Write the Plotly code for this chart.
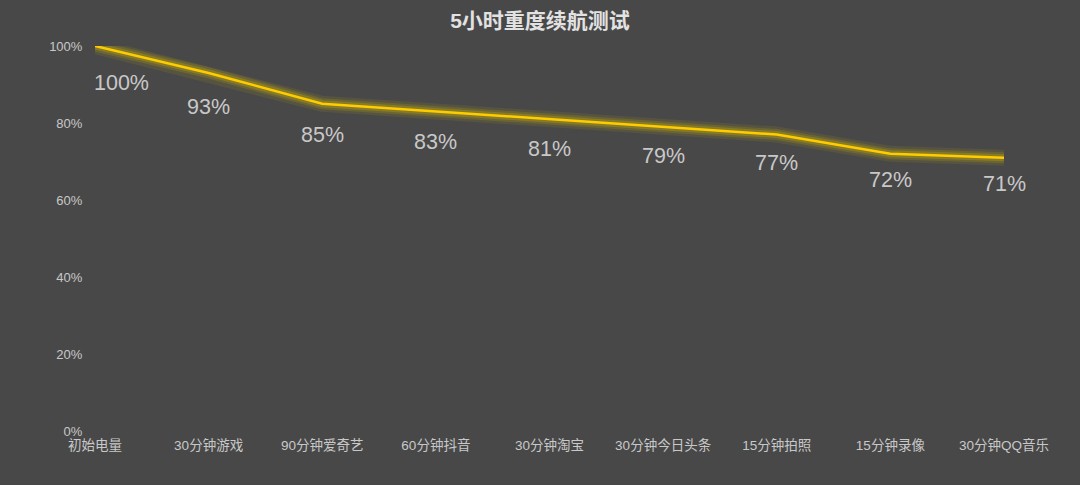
import plotly.graph_objects as go

categories = ["初始电量", "30分钟游戏", "90分钟爱奇艺", "60分钟抖音", "30分钟淘宝",
              "30分钟今日头条", "15分钟拍照", "15分钟录像", "30分钟QQ音乐"]
battery = [100, 93, 85, 83, 81, 79, 77, 72, 71]
y_ticks = [0, 20, 40, 60, 80, 100]
title = "5小时重度续航测试"

BG = "#484848"
FONT = "Liberation Sans, Noto Sans CJK SC, sans-serif"
xs = list(range(len(categories)))

fig = go.Figure()
# glow layers
for w, a in [(16, 0.10), (11, 0.16), (7, 0.25)]:
    fig.add_trace(go.Scatter(x=xs, y=battery, mode="lines",
                             line=dict(color=f"rgba(220,190,0,{a})", width=w),
                             hoverinfo="skip", showlegend=False, cliponaxis=False))
fig.add_trace(go.Scatter(x=xs, y=battery, mode="lines",
                         line=dict(color="#FFCC00", width=2.5),
                         showlegend=False, cliponaxis=False))

for i, v in enumerate(battery):
    fig.add_annotation(x=xs[i], y=v, text=f"{v}%", showarrow=False,
                       yshift=-0.37 * v, xshift=(-3 if i == 0 else 0),
                       xanchor=("left" if i == 0 else "center"),
                       font=dict(size=21.5, color="#c8c8c8", family=FONT))

fig.update_layout(
    width=1080, height=485,
    paper_bgcolor=BG, plot_bgcolor=BG,
    margin=dict(l=95, r=76, t=46, b=54),
    title=dict(text=f"<b>{title}</b>", x=0.5, xanchor="center", y=0.958, yanchor="middle",
               font=dict(size=21, color="#e2e2e2", family=FONT)),
    font=dict(family=FONT, color="#c8c8c8"),
    xaxis=dict(range=[0, len(categories) - 1], tickvals=xs, ticktext=categories,
               showgrid=False, zeroline=False, showline=False,
               tickfont=dict(size=13.5, color="#c8c8c8"),
               ticks="outside", ticklen=2, tickcolor=BG),
    yaxis=dict(range=[0, 100], tickvals=y_ticks, ticktext=[f"{t}%" for t in y_ticks],
               showgrid=False, zeroline=False, showline=False,
               tickfont=dict(size=13, color="#c8c8c8"),
               ticks="outside", ticklen=9, tickcolor=BG),
)

fig.write_html("out.html", config={"displayModeBar": False},
               post_script="document.body.style.margin='0';document.body.style.background='#484848';")
